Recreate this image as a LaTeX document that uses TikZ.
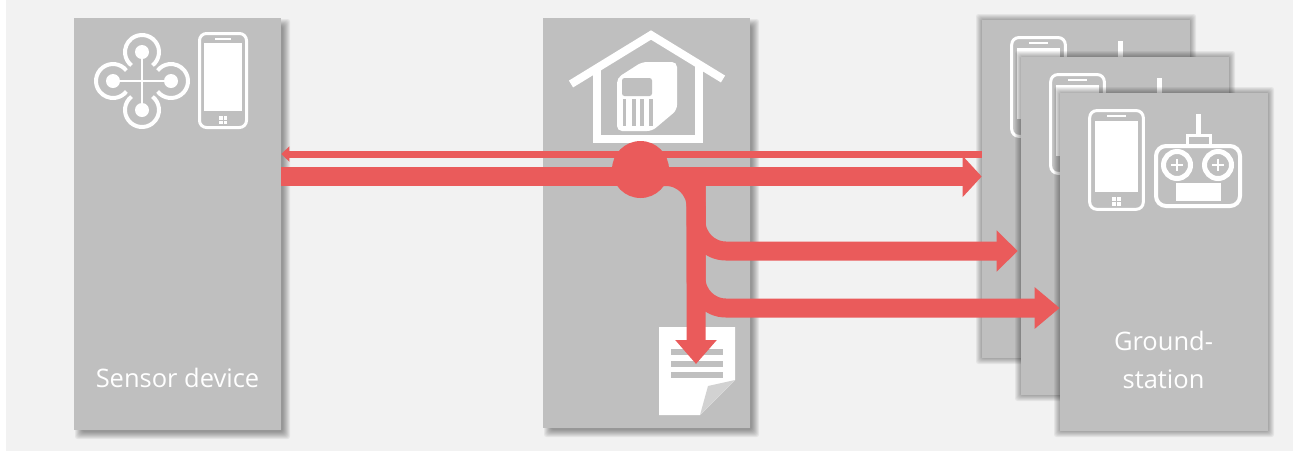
\documentclass[tikz,border=0pt]{standalone}
\usepackage{fontspec}
\setmainfont{Open Sans}
\usetikzlibrary{arrows.meta}
\definecolor{panelgray}{HTML}{BFBFBF}
\definecolor{backgray}{HTML}{F2F2F2}
\definecolor{flowred}{HTML}{EA5B5B}
\newcommand{\softshadow}[6]{%
	\foreach \r in {-3,-2,...,#6} {
		\fill[black, opacity=0.055, rounded corners=0.05cm] (#1+#5-\r,#2+#5-\r) rectangle (#3+#5+\r,#4+#5+\r);
	}
}
\tikzset{
	phoneicon/.pic={
		\draw[white, line width=3*0.02cm, rounded corners=.14cm] (1.5,1.5) rectangle (48.5,95.5);
		\fill[white] (6,11) rectangle (44,79);
		\draw[white, line width=2*0.02cm] (17,7) -- (33,7);
		\foreach \i/\j in {21/84, 25.5/84, 21/88.5, 25.5/88.5} {
			\fill[white] (\i,\j) rectangle ++(3.5,3.5);
		}
	},
	remoteicon/.pic={
		\fill[white] (-2.5,0) rectangle (2.5,20);
		\draw[white, line width=3*0.02cm] (-10.5,30) -- (-10.5,21.5) -- (12.5,21.5) -- (12.5,30);
		\draw[white, line width=4*0.02cm, rounded corners=.2cm] (-42,32) rectangle (42,92);
		\foreach \c in {-21,20} {
			\draw[white, line width=5*0.02cm] (\c,51) circle[radius=13.5];
			\draw[white, line width=2.5*0.02cm] (\c-6,51) -- (\c+6,51) (\c,45) -- (\c,57);
		}
		\fill[white] (-22,69) rectangle (23,87);
	},
	droneicon/.pic={
		\draw[white, line width=2*0.02cm] (-29,0) -- (29,0) (0,-29) -- (0,29);
		\begin{scope}[y=0.02cm]
			\foreach \a in {0,90,180,270} {
				\begin{scope}[rotate=\a]
					\fill[white] (0,29) circle[radius=7];
					\draw[white, line width=4*0.02cm] (0,29) ++(-52:17) arc[start angle=-52, end angle=232, radius=17];
				\end{scope}
			}
		\end{scope}
	},
}
\begin{document}
\begin{tikzpicture}[
		x=0.02cm, y=-0.02cm,
		panel/.style={fill=panelgray, minimum width=4.14cm, inner sep=0pt},
		panellabel/.style={text=white, font=\fontsize{14.5}{22}\selectfont, align=center},
		bigarrow/.style={-{Triangle[length=#1, width=0.8cm]}, draw=flowred, line width=0.38cm},
		bigarrow/.default=0.42cm,
		thinarrow/.style={-{Triangle[length=0.16cm, width=0.3cm]}, draw=flowred, line width=0.14cm},
	]
	\useasboundingbox (0,0) rectangle (1293,451);
	\fill[backgray] (6,0) rectangle (1293,451);

	% left and middle panels
	\softshadow{74}{18}{281}{430}{5}{4}
	\node[panel, minimum height=8.24cm] (sensor) at (177.5,224) {};
	\softshadow{543}{18}{750}{428}{5}{4}
	\node[panel, minimum height=8.2cm] (station) at (646.5,223) {};

	\pic at (198,32) {phoneicon};
	\pic at (142,81) {droneicon};
	\node[panellabel] (sensorlabel) at (177.5,378) {Sensor device};

	% home icon
	\draw[white, line width=8*0.02cm] (571,84) -- (651,35) -- (723,79);
	\draw[white, line width=8*0.02cm] (597,68) -- (597,139) -- (699,139) -- (699,64);
	\fill[white, rounded corners=0.1cm] (617,78) -- (642,62) -- (677,62) -- (677,110) -- (652,131) -- (617,131) -- cycle;
	\fill[panelgray, rounded corners=0.05cm] (622,78) rectangle (652,96);
	\foreach \i in {622.5,632,640,649} {
		\fill[panelgray] (\i,99) rectangle ++(3.5,27);
	}

	% report icon
	\fill[white] (659,327) -- (735,327) -- (735,380) -- (700,415) -- (659,415) -- cycle;
	\fill[panelgray!70!white] (735,380) -- (708,386) -- (700,415) -- cycle;
	\foreach \j in {349,360.5,372} {
		\fill[panelgray] (671,\j) rectangle (723,\j+6);
	}

	% three ground stations
	\foreach \nm/\dx/\dy in {carda/0/0, cardb/39/37, cardc/78/73} {
		\softshadow{982+\dx}{20+\dy}{1190+\dx}{358+\dy}{0}{6}
		\node[panel, minimum width=4.16cm, minimum height=6.76cm] (\nm) at (1086+\dx,189+\dy) {};
		\pic[xscale=1.14, yscale=1.05] at (1010+\dx,36+\dy) {phoneicon};
		\pic at (1120+\dx,41+\dy) {remoteicon};
	}
	\node[panellabel] (groundlabel) at (1163.5,360) {Ground-\\station};

	% connectors
	\node[circle, fill=flowred, minimum size=1.14cm, inner sep=0pt] (hub) at (640.5,169.5) {};
	\coordinate (thinline) at (640,154);
	\coordinate (bigline) at (640,176.5);
	\coordinate (branchb) at (696,251);
	\coordinate (branchc) at (696,308);
	\coordinate (reporttip) at (696,364);

	\draw[thinarrow] (carda.west |- thinline) -- (sensor.east |- thinline);
	\draw[bigarrow=0.38cm] (sensor.east |- bigline) -- (carda.west |- bigline);
	\draw[bigarrow=0.48cm, rounded corners=0.6cm] (bigline) -| (reporttip);
	\draw[bigarrow, rounded corners=0.6cm, shorten >=0.06cm] (reporttip |- bigline) |- (cardb.west |- branchb);
	\draw[bigarrow=0.5cm, rounded corners=0.6cm] (reporttip |- bigline) |- (cardc.west |- branchc);
\end{tikzpicture}
\end{document}
